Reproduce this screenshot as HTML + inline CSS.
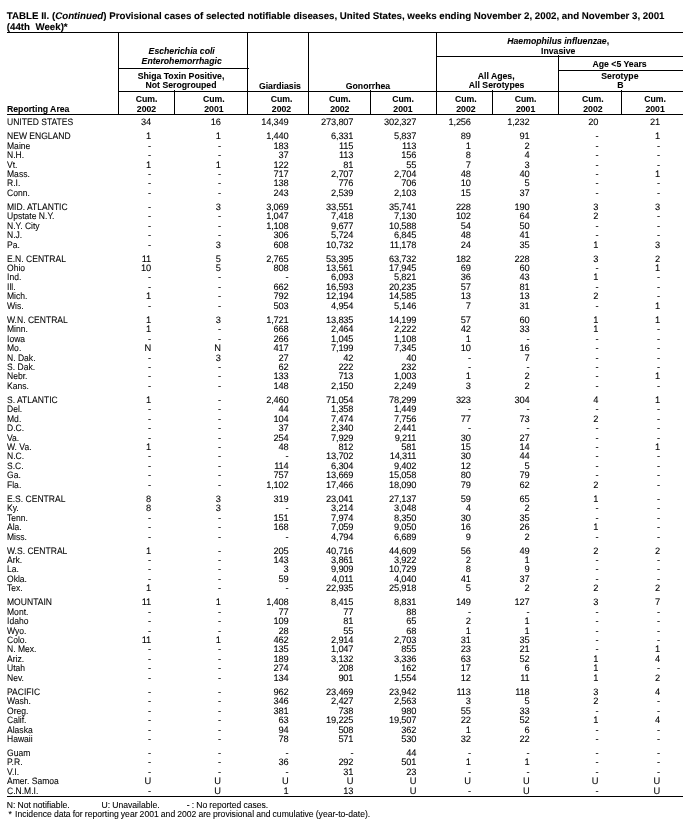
<!DOCTYPE html>
<html><head><meta charset="utf-8"><style>
html,body{margin:0;padding:0;background:#fff}
body{width:698px;height:829px;position:relative;overflow:hidden;will-change:transform;font-family:"Liberation Sans",sans-serif;color:#000}
.t{position:absolute;white-space:nowrap;line-height:20px;-webkit-text-stroke:0.08px #000}
.c{width:300px;text-align:center}
.r{font-size:9.3px;transform:scaleX(0.92);transform-origin:0 0;text-rendering:geometricPrecision}
.f{font-size:8.6px;word-spacing:-0.3px}
.n{font-size:9.3px;letter-spacing:-0.2px;text-rendering:geometricPrecision}
.h{font-size:8.7px;font-weight:bold}
.ti{font-size:9.72px;font-weight:bold;text-rendering:geometricPrecision}
.l{position:absolute;background:#000}
</style></head><body>
<div class="t ti" style="left:6.8px;top:6.9px">TABLE II. (<i>Continued</i>) Provisional cases of selected notifiable diseases, United States, weeks ending November 2, 2002, and November 3, 2001</div>
<div class="t ti" style="left:6.8px;top:17.8px">(44th&nbsp; Week)*</div>
<div class="l" style="left:7px;top:32px;width:676px;height:1px"></div>
<div class="l" style="left:7px;top:114px;width:676px;height:1px"></div>
<div class="l" style="left:118px;top:32px;width:1px;height:83px"></div>
<div class="l" style="left:247px;top:32px;width:1px;height:83px"></div>
<div class="l" style="left:308px;top:32px;width:1px;height:83px"></div>
<div class="l" style="left:436px;top:32px;width:1px;height:83px"></div>
<div class="l" style="left:118px;top:68px;width:131px;height:1px"></div>
<div class="l" style="left:118px;top:91px;width:565px;height:1px"></div>
<div class="l" style="left:436px;top:56px;width:247px;height:1px"></div>
<div class="l" style="left:558px;top:70px;width:125px;height:1px"></div>
<div class="l" style="left:558px;top:55px;width:1px;height:60px"></div>
<div class="l" style="left:174px;top:90px;width:1px;height:25px"></div>
<div class="l" style="left:370px;top:90px;width:1px;height:25px"></div>
<div class="l" style="left:492px;top:90px;width:1px;height:25px"></div>
<div class="l" style="left:621px;top:90px;width:1px;height:25px"></div>
<div class="t h c" style="left:31.7px;top:40.5px"><i>Escherichia coli</i></div>
<div class="t h c" style="left:31.7px;top:50.6px"><i>Enterohemorrhagic</i></div>
<div class="t h c" style="left:31px;top:65.6px">Shiga Toxin Positive,</div>
<div class="t h c" style="left:31px;top:75.1px">Not Serogrouped</div>
<div class="t h c" style="left:129.9px;top:75.8px">Giardiasis</div>
<div class="t h c" style="left:218px;top:75.8px">Gonorrhea</div>
<div class="t h c" style="left:408.2px;top:30.6px"><i>Haemophilus influenzae</i>,</div>
<div class="t h c" style="left:408.2px;top:40.6px">Invasive</div>
<div class="t h c" style="left:346.2px;top:65.6px">All Ages,</div>
<div class="t h c" style="left:346.6px;top:74.9px">All Serotypes</div>
<div class="t h c" style="left:469.6px;top:53.8px">Age &lt;5 Years</div>
<div class="t h c" style="left:469.9px;top:65.6px">Serotype</div>
<div class="t h c" style="left:470.5px;top:75.2px">B</div>
<div class="t h" style="left:7px;top:98.9px">Reporting Area</div>
<div class="t h c" style="left:-3.5px;top:88.85px">Cum.</div>
<div class="t h c" style="left:-3.5px;top:98.85px">2002</div>
<div class="t h c" style="left:63.9px;top:88.85px">Cum.</div>
<div class="t h c" style="left:63.9px;top:98.85px">2001</div>
<div class="t h c" style="left:131.5px;top:88.85px">Cum.</div>
<div class="t h c" style="left:131.5px;top:98.85px">2002</div>
<div class="t h c" style="left:189.8px;top:88.85px">Cum.</div>
<div class="t h c" style="left:189.8px;top:98.85px">2002</div>
<div class="t h c" style="left:253px;top:88.85px">Cum.</div>
<div class="t h c" style="left:253px;top:98.85px">2001</div>
<div class="t h c" style="left:315.9px;top:88.85px">Cum.</div>
<div class="t h c" style="left:315.9px;top:98.85px">2002</div>
<div class="t h c" style="left:375.6px;top:88.85px">Cum.</div>
<div class="t h c" style="left:375.6px;top:98.85px">2001</div>
<div class="t h c" style="left:442.9px;top:88.85px">Cum.</div>
<div class="t h c" style="left:442.9px;top:98.85px">2002</div>
<div class="t h c" style="left:505.1px;top:88.85px">Cum.</div>
<div class="t h c" style="left:505.1px;top:98.85px">2001</div>
<div class="t r" style="left:7.3px;top:112.21px">UNITED STATES</div>
<div class="t n" style="right:547px;top:112.21px">34</div>
<div class="t n" style="right:477.2px;top:112.21px">16</div>
<div class="t n" style="right:409.5px;top:112.21px">14,349</div>
<div class="t n" style="right:344.7px;top:112.21px">273,807</div>
<div class="t n" style="right:281.8px;top:112.21px">302,327</div>
<div class="t n" style="right:227.2px;top:112.21px">1,256</div>
<div class="t n" style="right:168.5px;top:112.21px">1,232</div>
<div class="t n" style="right:99.7px;top:112.21px">20</div>
<div class="t n" style="right:38px;top:112.21px">21</div>
<div class="t r" style="left:7.3px;top:126.2px">NEW ENGLAND</div>
<div class="t n" style="right:547px;top:126.2px">1</div>
<div class="t n" style="right:477.2px;top:126.2px">1</div>
<div class="t n" style="right:409.5px;top:126.2px">1,440</div>
<div class="t n" style="right:344.7px;top:126.2px">6,331</div>
<div class="t n" style="right:281.8px;top:126.2px">5,837</div>
<div class="t n" style="right:227.2px;top:126.2px">89</div>
<div class="t n" style="right:168.5px;top:126.2px">91</div>
<div class="t n" style="right:99.7px;top:126.2px">-</div>
<div class="t n" style="right:38px;top:126.2px">1</div>
<div class="t r" style="left:7.3px;top:135.64px">Maine</div>
<div class="t n" style="right:547px;top:135.64px">-</div>
<div class="t n" style="right:477.2px;top:135.64px">-</div>
<div class="t n" style="right:409.5px;top:135.64px">183</div>
<div class="t n" style="right:344.7px;top:135.64px">115</div>
<div class="t n" style="right:281.8px;top:135.64px">113</div>
<div class="t n" style="right:227.2px;top:135.64px">1</div>
<div class="t n" style="right:168.5px;top:135.64px">2</div>
<div class="t n" style="right:99.7px;top:135.64px">-</div>
<div class="t n" style="right:38px;top:135.64px">-</div>
<div class="t r" style="left:7.3px;top:145.08px">N.H.</div>
<div class="t n" style="right:547px;top:145.08px">-</div>
<div class="t n" style="right:477.2px;top:145.08px">-</div>
<div class="t n" style="right:409.5px;top:145.08px">37</div>
<div class="t n" style="right:344.7px;top:145.08px">113</div>
<div class="t n" style="right:281.8px;top:145.08px">156</div>
<div class="t n" style="right:227.2px;top:145.08px">8</div>
<div class="t n" style="right:168.5px;top:145.08px">4</div>
<div class="t n" style="right:99.7px;top:145.08px">-</div>
<div class="t n" style="right:38px;top:145.08px">-</div>
<div class="t r" style="left:7.3px;top:154.52px">Vt.</div>
<div class="t n" style="right:547px;top:154.52px">1</div>
<div class="t n" style="right:477.2px;top:154.52px">1</div>
<div class="t n" style="right:409.5px;top:154.52px">122</div>
<div class="t n" style="right:344.7px;top:154.52px">81</div>
<div class="t n" style="right:281.8px;top:154.52px">55</div>
<div class="t n" style="right:227.2px;top:154.52px">7</div>
<div class="t n" style="right:168.5px;top:154.52px">3</div>
<div class="t n" style="right:99.7px;top:154.52px">-</div>
<div class="t n" style="right:38px;top:154.52px">-</div>
<div class="t r" style="left:7.3px;top:163.96px">Mass.</div>
<div class="t n" style="right:547px;top:163.96px">-</div>
<div class="t n" style="right:477.2px;top:163.96px">-</div>
<div class="t n" style="right:409.5px;top:163.96px">717</div>
<div class="t n" style="right:344.7px;top:163.96px">2,707</div>
<div class="t n" style="right:281.8px;top:163.96px">2,704</div>
<div class="t n" style="right:227.2px;top:163.96px">48</div>
<div class="t n" style="right:168.5px;top:163.96px">40</div>
<div class="t n" style="right:99.7px;top:163.96px">-</div>
<div class="t n" style="right:38px;top:163.96px">1</div>
<div class="t r" style="left:7.3px;top:173.4px">R.I.</div>
<div class="t n" style="right:547px;top:173.4px">-</div>
<div class="t n" style="right:477.2px;top:173.4px">-</div>
<div class="t n" style="right:409.5px;top:173.4px">138</div>
<div class="t n" style="right:344.7px;top:173.4px">776</div>
<div class="t n" style="right:281.8px;top:173.4px">706</div>
<div class="t n" style="right:227.2px;top:173.4px">10</div>
<div class="t n" style="right:168.5px;top:173.4px">5</div>
<div class="t n" style="right:99.7px;top:173.4px">-</div>
<div class="t n" style="right:38px;top:173.4px">-</div>
<div class="t r" style="left:7.3px;top:182.84px">Conn.</div>
<div class="t n" style="right:547px;top:182.84px">-</div>
<div class="t n" style="right:477.2px;top:182.84px">-</div>
<div class="t n" style="right:409.5px;top:182.84px">243</div>
<div class="t n" style="right:344.7px;top:182.84px">2,539</div>
<div class="t n" style="right:281.8px;top:182.84px">2,103</div>
<div class="t n" style="right:227.2px;top:182.84px">15</div>
<div class="t n" style="right:168.5px;top:182.84px">37</div>
<div class="t n" style="right:99.7px;top:182.84px">-</div>
<div class="t n" style="right:38px;top:182.84px">-</div>
<div class="t r" style="left:7.3px;top:196.83px">MID. ATLANTIC</div>
<div class="t n" style="right:547px;top:196.83px">-</div>
<div class="t n" style="right:477.2px;top:196.83px">3</div>
<div class="t n" style="right:409.5px;top:196.83px">3,069</div>
<div class="t n" style="right:344.7px;top:196.83px">33,551</div>
<div class="t n" style="right:281.8px;top:196.83px">35,741</div>
<div class="t n" style="right:227.2px;top:196.83px">228</div>
<div class="t n" style="right:168.5px;top:196.83px">190</div>
<div class="t n" style="right:99.7px;top:196.83px">3</div>
<div class="t n" style="right:38px;top:196.83px">3</div>
<div class="t r" style="left:7.3px;top:206.27px">Upstate N.Y.</div>
<div class="t n" style="right:547px;top:206.27px">-</div>
<div class="t n" style="right:477.2px;top:206.27px">-</div>
<div class="t n" style="right:409.5px;top:206.27px">1,047</div>
<div class="t n" style="right:344.7px;top:206.27px">7,418</div>
<div class="t n" style="right:281.8px;top:206.27px">7,130</div>
<div class="t n" style="right:227.2px;top:206.27px">102</div>
<div class="t n" style="right:168.5px;top:206.27px">64</div>
<div class="t n" style="right:99.7px;top:206.27px">2</div>
<div class="t n" style="right:38px;top:206.27px">-</div>
<div class="t r" style="left:7.3px;top:215.71px">N.Y. City</div>
<div class="t n" style="right:547px;top:215.71px">-</div>
<div class="t n" style="right:477.2px;top:215.71px">-</div>
<div class="t n" style="right:409.5px;top:215.71px">1,108</div>
<div class="t n" style="right:344.7px;top:215.71px">9,677</div>
<div class="t n" style="right:281.8px;top:215.71px">10,588</div>
<div class="t n" style="right:227.2px;top:215.71px">54</div>
<div class="t n" style="right:168.5px;top:215.71px">50</div>
<div class="t n" style="right:99.7px;top:215.71px">-</div>
<div class="t n" style="right:38px;top:215.71px">-</div>
<div class="t r" style="left:7.3px;top:225.15px">N.J.</div>
<div class="t n" style="right:547px;top:225.15px">-</div>
<div class="t n" style="right:477.2px;top:225.15px">-</div>
<div class="t n" style="right:409.5px;top:225.15px">306</div>
<div class="t n" style="right:344.7px;top:225.15px">5,724</div>
<div class="t n" style="right:281.8px;top:225.15px">6,845</div>
<div class="t n" style="right:227.2px;top:225.15px">48</div>
<div class="t n" style="right:168.5px;top:225.15px">41</div>
<div class="t n" style="right:99.7px;top:225.15px">-</div>
<div class="t n" style="right:38px;top:225.15px">-</div>
<div class="t r" style="left:7.3px;top:234.59px">Pa.</div>
<div class="t n" style="right:547px;top:234.59px">-</div>
<div class="t n" style="right:477.2px;top:234.59px">3</div>
<div class="t n" style="right:409.5px;top:234.59px">608</div>
<div class="t n" style="right:344.7px;top:234.59px">10,732</div>
<div class="t n" style="right:281.8px;top:234.59px">11,178</div>
<div class="t n" style="right:227.2px;top:234.59px">24</div>
<div class="t n" style="right:168.5px;top:234.59px">35</div>
<div class="t n" style="right:99.7px;top:234.59px">1</div>
<div class="t n" style="right:38px;top:234.59px">3</div>
<div class="t r" style="left:7.3px;top:248.58px">E.N. CENTRAL</div>
<div class="t n" style="right:547px;top:248.58px">11</div>
<div class="t n" style="right:477.2px;top:248.58px">5</div>
<div class="t n" style="right:409.5px;top:248.58px">2,765</div>
<div class="t n" style="right:344.7px;top:248.58px">53,395</div>
<div class="t n" style="right:281.8px;top:248.58px">63,732</div>
<div class="t n" style="right:227.2px;top:248.58px">182</div>
<div class="t n" style="right:168.5px;top:248.58px">228</div>
<div class="t n" style="right:99.7px;top:248.58px">3</div>
<div class="t n" style="right:38px;top:248.58px">2</div>
<div class="t r" style="left:7.3px;top:258.02px">Ohio</div>
<div class="t n" style="right:547px;top:258.02px">10</div>
<div class="t n" style="right:477.2px;top:258.02px">5</div>
<div class="t n" style="right:409.5px;top:258.02px">808</div>
<div class="t n" style="right:344.7px;top:258.02px">13,561</div>
<div class="t n" style="right:281.8px;top:258.02px">17,945</div>
<div class="t n" style="right:227.2px;top:258.02px">69</div>
<div class="t n" style="right:168.5px;top:258.02px">60</div>
<div class="t n" style="right:99.7px;top:258.02px">-</div>
<div class="t n" style="right:38px;top:258.02px">1</div>
<div class="t r" style="left:7.3px;top:267.46px">Ind.</div>
<div class="t n" style="right:547px;top:267.46px">-</div>
<div class="t n" style="right:477.2px;top:267.46px">-</div>
<div class="t n" style="right:409.5px;top:267.46px">-</div>
<div class="t n" style="right:344.7px;top:267.46px">6,093</div>
<div class="t n" style="right:281.8px;top:267.46px">5,821</div>
<div class="t n" style="right:227.2px;top:267.46px">36</div>
<div class="t n" style="right:168.5px;top:267.46px">43</div>
<div class="t n" style="right:99.7px;top:267.46px">1</div>
<div class="t n" style="right:38px;top:267.46px">-</div>
<div class="t r" style="left:7.3px;top:276.9px">Ill.</div>
<div class="t n" style="right:547px;top:276.9px">-</div>
<div class="t n" style="right:477.2px;top:276.9px">-</div>
<div class="t n" style="right:409.5px;top:276.9px">662</div>
<div class="t n" style="right:344.7px;top:276.9px">16,593</div>
<div class="t n" style="right:281.8px;top:276.9px">20,235</div>
<div class="t n" style="right:227.2px;top:276.9px">57</div>
<div class="t n" style="right:168.5px;top:276.9px">81</div>
<div class="t n" style="right:99.7px;top:276.9px">-</div>
<div class="t n" style="right:38px;top:276.9px">-</div>
<div class="t r" style="left:7.3px;top:286.34px">Mich.</div>
<div class="t n" style="right:547px;top:286.34px">1</div>
<div class="t n" style="right:477.2px;top:286.34px">-</div>
<div class="t n" style="right:409.5px;top:286.34px">792</div>
<div class="t n" style="right:344.7px;top:286.34px">12,194</div>
<div class="t n" style="right:281.8px;top:286.34px">14,585</div>
<div class="t n" style="right:227.2px;top:286.34px">13</div>
<div class="t n" style="right:168.5px;top:286.34px">13</div>
<div class="t n" style="right:99.7px;top:286.34px">2</div>
<div class="t n" style="right:38px;top:286.34px">-</div>
<div class="t r" style="left:7.3px;top:295.78px">Wis.</div>
<div class="t n" style="right:547px;top:295.78px">-</div>
<div class="t n" style="right:477.2px;top:295.78px">-</div>
<div class="t n" style="right:409.5px;top:295.78px">503</div>
<div class="t n" style="right:344.7px;top:295.78px">4,954</div>
<div class="t n" style="right:281.8px;top:295.78px">5,146</div>
<div class="t n" style="right:227.2px;top:295.78px">7</div>
<div class="t n" style="right:168.5px;top:295.78px">31</div>
<div class="t n" style="right:99.7px;top:295.78px">-</div>
<div class="t n" style="right:38px;top:295.78px">1</div>
<div class="t r" style="left:7.3px;top:309.77px">W.N. CENTRAL</div>
<div class="t n" style="right:547px;top:309.77px">1</div>
<div class="t n" style="right:477.2px;top:309.77px">3</div>
<div class="t n" style="right:409.5px;top:309.77px">1,721</div>
<div class="t n" style="right:344.7px;top:309.77px">13,835</div>
<div class="t n" style="right:281.8px;top:309.77px">14,199</div>
<div class="t n" style="right:227.2px;top:309.77px">57</div>
<div class="t n" style="right:168.5px;top:309.77px">60</div>
<div class="t n" style="right:99.7px;top:309.77px">1</div>
<div class="t n" style="right:38px;top:309.77px">1</div>
<div class="t r" style="left:7.3px;top:319.21px">Minn.</div>
<div class="t n" style="right:547px;top:319.21px">1</div>
<div class="t n" style="right:477.2px;top:319.21px">-</div>
<div class="t n" style="right:409.5px;top:319.21px">668</div>
<div class="t n" style="right:344.7px;top:319.21px">2,464</div>
<div class="t n" style="right:281.8px;top:319.21px">2,222</div>
<div class="t n" style="right:227.2px;top:319.21px">42</div>
<div class="t n" style="right:168.5px;top:319.21px">33</div>
<div class="t n" style="right:99.7px;top:319.21px">1</div>
<div class="t n" style="right:38px;top:319.21px">-</div>
<div class="t r" style="left:7.3px;top:328.65px">Iowa</div>
<div class="t n" style="right:547px;top:328.65px">-</div>
<div class="t n" style="right:477.2px;top:328.65px">-</div>
<div class="t n" style="right:409.5px;top:328.65px">266</div>
<div class="t n" style="right:344.7px;top:328.65px">1,045</div>
<div class="t n" style="right:281.8px;top:328.65px">1,108</div>
<div class="t n" style="right:227.2px;top:328.65px">1</div>
<div class="t n" style="right:168.5px;top:328.65px">-</div>
<div class="t n" style="right:99.7px;top:328.65px">-</div>
<div class="t n" style="right:38px;top:328.65px">-</div>
<div class="t r" style="left:7.3px;top:338.09px">Mo.</div>
<div class="t n" style="right:547px;top:338.09px">N</div>
<div class="t n" style="right:477.2px;top:338.09px">N</div>
<div class="t n" style="right:409.5px;top:338.09px">417</div>
<div class="t n" style="right:344.7px;top:338.09px">7,199</div>
<div class="t n" style="right:281.8px;top:338.09px">7,345</div>
<div class="t n" style="right:227.2px;top:338.09px">10</div>
<div class="t n" style="right:168.5px;top:338.09px">16</div>
<div class="t n" style="right:99.7px;top:338.09px">-</div>
<div class="t n" style="right:38px;top:338.09px">-</div>
<div class="t r" style="left:7.3px;top:347.53px">N. Dak.</div>
<div class="t n" style="right:547px;top:347.53px">-</div>
<div class="t n" style="right:477.2px;top:347.53px">3</div>
<div class="t n" style="right:409.5px;top:347.53px">27</div>
<div class="t n" style="right:344.7px;top:347.53px">42</div>
<div class="t n" style="right:281.8px;top:347.53px">40</div>
<div class="t n" style="right:227.2px;top:347.53px">-</div>
<div class="t n" style="right:168.5px;top:347.53px">7</div>
<div class="t n" style="right:99.7px;top:347.53px">-</div>
<div class="t n" style="right:38px;top:347.53px">-</div>
<div class="t r" style="left:7.3px;top:356.97px">S. Dak.</div>
<div class="t n" style="right:547px;top:356.97px">-</div>
<div class="t n" style="right:477.2px;top:356.97px">-</div>
<div class="t n" style="right:409.5px;top:356.97px">62</div>
<div class="t n" style="right:344.7px;top:356.97px">222</div>
<div class="t n" style="right:281.8px;top:356.97px">232</div>
<div class="t n" style="right:227.2px;top:356.97px">-</div>
<div class="t n" style="right:168.5px;top:356.97px">-</div>
<div class="t n" style="right:99.7px;top:356.97px">-</div>
<div class="t n" style="right:38px;top:356.97px">-</div>
<div class="t r" style="left:7.3px;top:366.41px">Nebr.</div>
<div class="t n" style="right:547px;top:366.41px">-</div>
<div class="t n" style="right:477.2px;top:366.41px">-</div>
<div class="t n" style="right:409.5px;top:366.41px">133</div>
<div class="t n" style="right:344.7px;top:366.41px">713</div>
<div class="t n" style="right:281.8px;top:366.41px">1,003</div>
<div class="t n" style="right:227.2px;top:366.41px">1</div>
<div class="t n" style="right:168.5px;top:366.41px">2</div>
<div class="t n" style="right:99.7px;top:366.41px">-</div>
<div class="t n" style="right:38px;top:366.41px">1</div>
<div class="t r" style="left:7.3px;top:375.85px">Kans.</div>
<div class="t n" style="right:547px;top:375.85px">-</div>
<div class="t n" style="right:477.2px;top:375.85px">-</div>
<div class="t n" style="right:409.5px;top:375.85px">148</div>
<div class="t n" style="right:344.7px;top:375.85px">2,150</div>
<div class="t n" style="right:281.8px;top:375.85px">2,249</div>
<div class="t n" style="right:227.2px;top:375.85px">3</div>
<div class="t n" style="right:168.5px;top:375.85px">2</div>
<div class="t n" style="right:99.7px;top:375.85px">-</div>
<div class="t n" style="right:38px;top:375.85px">-</div>
<div class="t r" style="left:7.3px;top:389.84px">S. ATLANTIC</div>
<div class="t n" style="right:547px;top:389.84px">1</div>
<div class="t n" style="right:477.2px;top:389.84px">-</div>
<div class="t n" style="right:409.5px;top:389.84px">2,460</div>
<div class="t n" style="right:344.7px;top:389.84px">71,054</div>
<div class="t n" style="right:281.8px;top:389.84px">78,299</div>
<div class="t n" style="right:227.2px;top:389.84px">323</div>
<div class="t n" style="right:168.5px;top:389.84px">304</div>
<div class="t n" style="right:99.7px;top:389.84px">4</div>
<div class="t n" style="right:38px;top:389.84px">1</div>
<div class="t r" style="left:7.3px;top:399.28px">Del.</div>
<div class="t n" style="right:547px;top:399.28px">-</div>
<div class="t n" style="right:477.2px;top:399.28px">-</div>
<div class="t n" style="right:409.5px;top:399.28px">44</div>
<div class="t n" style="right:344.7px;top:399.28px">1,358</div>
<div class="t n" style="right:281.8px;top:399.28px">1,449</div>
<div class="t n" style="right:227.2px;top:399.28px">-</div>
<div class="t n" style="right:168.5px;top:399.28px">-</div>
<div class="t n" style="right:99.7px;top:399.28px">-</div>
<div class="t n" style="right:38px;top:399.28px">-</div>
<div class="t r" style="left:7.3px;top:408.72px">Md.</div>
<div class="t n" style="right:547px;top:408.72px">-</div>
<div class="t n" style="right:477.2px;top:408.72px">-</div>
<div class="t n" style="right:409.5px;top:408.72px">104</div>
<div class="t n" style="right:344.7px;top:408.72px">7,474</div>
<div class="t n" style="right:281.8px;top:408.72px">7,756</div>
<div class="t n" style="right:227.2px;top:408.72px">77</div>
<div class="t n" style="right:168.5px;top:408.72px">73</div>
<div class="t n" style="right:99.7px;top:408.72px">2</div>
<div class="t n" style="right:38px;top:408.72px">-</div>
<div class="t r" style="left:7.3px;top:418.16px">D.C.</div>
<div class="t n" style="right:547px;top:418.16px">-</div>
<div class="t n" style="right:477.2px;top:418.16px">-</div>
<div class="t n" style="right:409.5px;top:418.16px">37</div>
<div class="t n" style="right:344.7px;top:418.16px">2,340</div>
<div class="t n" style="right:281.8px;top:418.16px">2,441</div>
<div class="t n" style="right:227.2px;top:418.16px">-</div>
<div class="t n" style="right:168.5px;top:418.16px">-</div>
<div class="t n" style="right:99.7px;top:418.16px">-</div>
<div class="t n" style="right:38px;top:418.16px">-</div>
<div class="t r" style="left:7.3px;top:427.6px">Va.</div>
<div class="t n" style="right:547px;top:427.6px">-</div>
<div class="t n" style="right:477.2px;top:427.6px">-</div>
<div class="t n" style="right:409.5px;top:427.6px">254</div>
<div class="t n" style="right:344.7px;top:427.6px">7,929</div>
<div class="t n" style="right:281.8px;top:427.6px">9,211</div>
<div class="t n" style="right:227.2px;top:427.6px">30</div>
<div class="t n" style="right:168.5px;top:427.6px">27</div>
<div class="t n" style="right:99.7px;top:427.6px">-</div>
<div class="t n" style="right:38px;top:427.6px">-</div>
<div class="t r" style="left:7.3px;top:437.04px">W. Va.</div>
<div class="t n" style="right:547px;top:437.04px">1</div>
<div class="t n" style="right:477.2px;top:437.04px">-</div>
<div class="t n" style="right:409.5px;top:437.04px">48</div>
<div class="t n" style="right:344.7px;top:437.04px">812</div>
<div class="t n" style="right:281.8px;top:437.04px">581</div>
<div class="t n" style="right:227.2px;top:437.04px">15</div>
<div class="t n" style="right:168.5px;top:437.04px">14</div>
<div class="t n" style="right:99.7px;top:437.04px">-</div>
<div class="t n" style="right:38px;top:437.04px">1</div>
<div class="t r" style="left:7.3px;top:446.48px">N.C.</div>
<div class="t n" style="right:547px;top:446.48px">-</div>
<div class="t n" style="right:477.2px;top:446.48px">-</div>
<div class="t n" style="right:409.5px;top:446.48px">-</div>
<div class="t n" style="right:344.7px;top:446.48px">13,702</div>
<div class="t n" style="right:281.8px;top:446.48px">14,311</div>
<div class="t n" style="right:227.2px;top:446.48px">30</div>
<div class="t n" style="right:168.5px;top:446.48px">44</div>
<div class="t n" style="right:99.7px;top:446.48px">-</div>
<div class="t n" style="right:38px;top:446.48px">-</div>
<div class="t r" style="left:7.3px;top:455.92px">S.C.</div>
<div class="t n" style="right:547px;top:455.92px">-</div>
<div class="t n" style="right:477.2px;top:455.92px">-</div>
<div class="t n" style="right:409.5px;top:455.92px">114</div>
<div class="t n" style="right:344.7px;top:455.92px">6,304</div>
<div class="t n" style="right:281.8px;top:455.92px">9,402</div>
<div class="t n" style="right:227.2px;top:455.92px">12</div>
<div class="t n" style="right:168.5px;top:455.92px">5</div>
<div class="t n" style="right:99.7px;top:455.92px">-</div>
<div class="t n" style="right:38px;top:455.92px">-</div>
<div class="t r" style="left:7.3px;top:465.36px">Ga.</div>
<div class="t n" style="right:547px;top:465.36px">-</div>
<div class="t n" style="right:477.2px;top:465.36px">-</div>
<div class="t n" style="right:409.5px;top:465.36px">757</div>
<div class="t n" style="right:344.7px;top:465.36px">13,669</div>
<div class="t n" style="right:281.8px;top:465.36px">15,058</div>
<div class="t n" style="right:227.2px;top:465.36px">80</div>
<div class="t n" style="right:168.5px;top:465.36px">79</div>
<div class="t n" style="right:99.7px;top:465.36px">-</div>
<div class="t n" style="right:38px;top:465.36px">-</div>
<div class="t r" style="left:7.3px;top:474.8px">Fla.</div>
<div class="t n" style="right:547px;top:474.8px">-</div>
<div class="t n" style="right:477.2px;top:474.8px">-</div>
<div class="t n" style="right:409.5px;top:474.8px">1,102</div>
<div class="t n" style="right:344.7px;top:474.8px">17,466</div>
<div class="t n" style="right:281.8px;top:474.8px">18,090</div>
<div class="t n" style="right:227.2px;top:474.8px">79</div>
<div class="t n" style="right:168.5px;top:474.8px">62</div>
<div class="t n" style="right:99.7px;top:474.8px">2</div>
<div class="t n" style="right:38px;top:474.8px">-</div>
<div class="t r" style="left:7.3px;top:488.79px">E.S. CENTRAL</div>
<div class="t n" style="right:547px;top:488.79px">8</div>
<div class="t n" style="right:477.2px;top:488.79px">3</div>
<div class="t n" style="right:409.5px;top:488.79px">319</div>
<div class="t n" style="right:344.7px;top:488.79px">23,041</div>
<div class="t n" style="right:281.8px;top:488.79px">27,137</div>
<div class="t n" style="right:227.2px;top:488.79px">59</div>
<div class="t n" style="right:168.5px;top:488.79px">65</div>
<div class="t n" style="right:99.7px;top:488.79px">1</div>
<div class="t n" style="right:38px;top:488.79px">-</div>
<div class="t r" style="left:7.3px;top:498.23px">Ky.</div>
<div class="t n" style="right:547px;top:498.23px">8</div>
<div class="t n" style="right:477.2px;top:498.23px">3</div>
<div class="t n" style="right:409.5px;top:498.23px">-</div>
<div class="t n" style="right:344.7px;top:498.23px">3,214</div>
<div class="t n" style="right:281.8px;top:498.23px">3,048</div>
<div class="t n" style="right:227.2px;top:498.23px">4</div>
<div class="t n" style="right:168.5px;top:498.23px">2</div>
<div class="t n" style="right:99.7px;top:498.23px">-</div>
<div class="t n" style="right:38px;top:498.23px">-</div>
<div class="t r" style="left:7.3px;top:507.67px">Tenn.</div>
<div class="t n" style="right:547px;top:507.67px">-</div>
<div class="t n" style="right:477.2px;top:507.67px">-</div>
<div class="t n" style="right:409.5px;top:507.67px">151</div>
<div class="t n" style="right:344.7px;top:507.67px">7,974</div>
<div class="t n" style="right:281.8px;top:507.67px">8,350</div>
<div class="t n" style="right:227.2px;top:507.67px">30</div>
<div class="t n" style="right:168.5px;top:507.67px">35</div>
<div class="t n" style="right:99.7px;top:507.67px">-</div>
<div class="t n" style="right:38px;top:507.67px">-</div>
<div class="t r" style="left:7.3px;top:517.11px">Ala.</div>
<div class="t n" style="right:547px;top:517.11px">-</div>
<div class="t n" style="right:477.2px;top:517.11px">-</div>
<div class="t n" style="right:409.5px;top:517.11px">168</div>
<div class="t n" style="right:344.7px;top:517.11px">7,059</div>
<div class="t n" style="right:281.8px;top:517.11px">9,050</div>
<div class="t n" style="right:227.2px;top:517.11px">16</div>
<div class="t n" style="right:168.5px;top:517.11px">26</div>
<div class="t n" style="right:99.7px;top:517.11px">1</div>
<div class="t n" style="right:38px;top:517.11px">-</div>
<div class="t r" style="left:7.3px;top:526.55px">Miss.</div>
<div class="t n" style="right:547px;top:526.55px">-</div>
<div class="t n" style="right:477.2px;top:526.55px">-</div>
<div class="t n" style="right:409.5px;top:526.55px">-</div>
<div class="t n" style="right:344.7px;top:526.55px">4,794</div>
<div class="t n" style="right:281.8px;top:526.55px">6,689</div>
<div class="t n" style="right:227.2px;top:526.55px">9</div>
<div class="t n" style="right:168.5px;top:526.55px">2</div>
<div class="t n" style="right:99.7px;top:526.55px">-</div>
<div class="t n" style="right:38px;top:526.55px">-</div>
<div class="t r" style="left:7.3px;top:540.54px">W.S. CENTRAL</div>
<div class="t n" style="right:547px;top:540.54px">1</div>
<div class="t n" style="right:477.2px;top:540.54px">-</div>
<div class="t n" style="right:409.5px;top:540.54px">205</div>
<div class="t n" style="right:344.7px;top:540.54px">40,716</div>
<div class="t n" style="right:281.8px;top:540.54px">44,609</div>
<div class="t n" style="right:227.2px;top:540.54px">56</div>
<div class="t n" style="right:168.5px;top:540.54px">49</div>
<div class="t n" style="right:99.7px;top:540.54px">2</div>
<div class="t n" style="right:38px;top:540.54px">2</div>
<div class="t r" style="left:7.3px;top:549.98px">Ark.</div>
<div class="t n" style="right:547px;top:549.98px">-</div>
<div class="t n" style="right:477.2px;top:549.98px">-</div>
<div class="t n" style="right:409.5px;top:549.98px">143</div>
<div class="t n" style="right:344.7px;top:549.98px">3,861</div>
<div class="t n" style="right:281.8px;top:549.98px">3,922</div>
<div class="t n" style="right:227.2px;top:549.98px">2</div>
<div class="t n" style="right:168.5px;top:549.98px">1</div>
<div class="t n" style="right:99.7px;top:549.98px">-</div>
<div class="t n" style="right:38px;top:549.98px">-</div>
<div class="t r" style="left:7.3px;top:559.42px">La.</div>
<div class="t n" style="right:547px;top:559.42px">-</div>
<div class="t n" style="right:477.2px;top:559.42px">-</div>
<div class="t n" style="right:409.5px;top:559.42px">3</div>
<div class="t n" style="right:344.7px;top:559.42px">9,909</div>
<div class="t n" style="right:281.8px;top:559.42px">10,729</div>
<div class="t n" style="right:227.2px;top:559.42px">8</div>
<div class="t n" style="right:168.5px;top:559.42px">9</div>
<div class="t n" style="right:99.7px;top:559.42px">-</div>
<div class="t n" style="right:38px;top:559.42px">-</div>
<div class="t r" style="left:7.3px;top:568.86px">Okla.</div>
<div class="t n" style="right:547px;top:568.86px">-</div>
<div class="t n" style="right:477.2px;top:568.86px">-</div>
<div class="t n" style="right:409.5px;top:568.86px">59</div>
<div class="t n" style="right:344.7px;top:568.86px">4,011</div>
<div class="t n" style="right:281.8px;top:568.86px">4,040</div>
<div class="t n" style="right:227.2px;top:568.86px">41</div>
<div class="t n" style="right:168.5px;top:568.86px">37</div>
<div class="t n" style="right:99.7px;top:568.86px">-</div>
<div class="t n" style="right:38px;top:568.86px">-</div>
<div class="t r" style="left:7.3px;top:578.3px">Tex.</div>
<div class="t n" style="right:547px;top:578.3px">1</div>
<div class="t n" style="right:477.2px;top:578.3px">-</div>
<div class="t n" style="right:409.5px;top:578.3px">-</div>
<div class="t n" style="right:344.7px;top:578.3px">22,935</div>
<div class="t n" style="right:281.8px;top:578.3px">25,918</div>
<div class="t n" style="right:227.2px;top:578.3px">5</div>
<div class="t n" style="right:168.5px;top:578.3px">2</div>
<div class="t n" style="right:99.7px;top:578.3px">2</div>
<div class="t n" style="right:38px;top:578.3px">2</div>
<div class="t r" style="left:7.3px;top:592.29px">MOUNTAIN</div>
<div class="t n" style="right:547px;top:592.29px">11</div>
<div class="t n" style="right:477.2px;top:592.29px">1</div>
<div class="t n" style="right:409.5px;top:592.29px">1,408</div>
<div class="t n" style="right:344.7px;top:592.29px">8,415</div>
<div class="t n" style="right:281.8px;top:592.29px">8,831</div>
<div class="t n" style="right:227.2px;top:592.29px">149</div>
<div class="t n" style="right:168.5px;top:592.29px">127</div>
<div class="t n" style="right:99.7px;top:592.29px">3</div>
<div class="t n" style="right:38px;top:592.29px">7</div>
<div class="t r" style="left:7.3px;top:601.73px">Mont.</div>
<div class="t n" style="right:547px;top:601.73px">-</div>
<div class="t n" style="right:477.2px;top:601.73px">-</div>
<div class="t n" style="right:409.5px;top:601.73px">77</div>
<div class="t n" style="right:344.7px;top:601.73px">77</div>
<div class="t n" style="right:281.8px;top:601.73px">88</div>
<div class="t n" style="right:227.2px;top:601.73px">-</div>
<div class="t n" style="right:168.5px;top:601.73px">-</div>
<div class="t n" style="right:99.7px;top:601.73px">-</div>
<div class="t n" style="right:38px;top:601.73px">-</div>
<div class="t r" style="left:7.3px;top:611.17px">Idaho</div>
<div class="t n" style="right:547px;top:611.17px">-</div>
<div class="t n" style="right:477.2px;top:611.17px">-</div>
<div class="t n" style="right:409.5px;top:611.17px">109</div>
<div class="t n" style="right:344.7px;top:611.17px">81</div>
<div class="t n" style="right:281.8px;top:611.17px">65</div>
<div class="t n" style="right:227.2px;top:611.17px">2</div>
<div class="t n" style="right:168.5px;top:611.17px">1</div>
<div class="t n" style="right:99.7px;top:611.17px">-</div>
<div class="t n" style="right:38px;top:611.17px">-</div>
<div class="t r" style="left:7.3px;top:620.61px">Wyo.</div>
<div class="t n" style="right:547px;top:620.61px">-</div>
<div class="t n" style="right:477.2px;top:620.61px">-</div>
<div class="t n" style="right:409.5px;top:620.61px">28</div>
<div class="t n" style="right:344.7px;top:620.61px">55</div>
<div class="t n" style="right:281.8px;top:620.61px">68</div>
<div class="t n" style="right:227.2px;top:620.61px">1</div>
<div class="t n" style="right:168.5px;top:620.61px">1</div>
<div class="t n" style="right:99.7px;top:620.61px">-</div>
<div class="t n" style="right:38px;top:620.61px">-</div>
<div class="t r" style="left:7.3px;top:630.05px">Colo.</div>
<div class="t n" style="right:547px;top:630.05px">11</div>
<div class="t n" style="right:477.2px;top:630.05px">1</div>
<div class="t n" style="right:409.5px;top:630.05px">462</div>
<div class="t n" style="right:344.7px;top:630.05px">2,914</div>
<div class="t n" style="right:281.8px;top:630.05px">2,703</div>
<div class="t n" style="right:227.2px;top:630.05px">31</div>
<div class="t n" style="right:168.5px;top:630.05px">35</div>
<div class="t n" style="right:99.7px;top:630.05px">-</div>
<div class="t n" style="right:38px;top:630.05px">-</div>
<div class="t r" style="left:7.3px;top:639.49px">N. Mex.</div>
<div class="t n" style="right:547px;top:639.49px">-</div>
<div class="t n" style="right:477.2px;top:639.49px">-</div>
<div class="t n" style="right:409.5px;top:639.49px">135</div>
<div class="t n" style="right:344.7px;top:639.49px">1,047</div>
<div class="t n" style="right:281.8px;top:639.49px">855</div>
<div class="t n" style="right:227.2px;top:639.49px">23</div>
<div class="t n" style="right:168.5px;top:639.49px">21</div>
<div class="t n" style="right:99.7px;top:639.49px">-</div>
<div class="t n" style="right:38px;top:639.49px">1</div>
<div class="t r" style="left:7.3px;top:648.93px">Ariz.</div>
<div class="t n" style="right:547px;top:648.93px">-</div>
<div class="t n" style="right:477.2px;top:648.93px">-</div>
<div class="t n" style="right:409.5px;top:648.93px">189</div>
<div class="t n" style="right:344.7px;top:648.93px">3,132</div>
<div class="t n" style="right:281.8px;top:648.93px">3,336</div>
<div class="t n" style="right:227.2px;top:648.93px">63</div>
<div class="t n" style="right:168.5px;top:648.93px">52</div>
<div class="t n" style="right:99.7px;top:648.93px">1</div>
<div class="t n" style="right:38px;top:648.93px">4</div>
<div class="t r" style="left:7.3px;top:658.37px">Utah</div>
<div class="t n" style="right:547px;top:658.37px">-</div>
<div class="t n" style="right:477.2px;top:658.37px">-</div>
<div class="t n" style="right:409.5px;top:658.37px">274</div>
<div class="t n" style="right:344.7px;top:658.37px">208</div>
<div class="t n" style="right:281.8px;top:658.37px">162</div>
<div class="t n" style="right:227.2px;top:658.37px">17</div>
<div class="t n" style="right:168.5px;top:658.37px">6</div>
<div class="t n" style="right:99.7px;top:658.37px">1</div>
<div class="t n" style="right:38px;top:658.37px">-</div>
<div class="t r" style="left:7.3px;top:667.81px">Nev.</div>
<div class="t n" style="right:547px;top:667.81px">-</div>
<div class="t n" style="right:477.2px;top:667.81px">-</div>
<div class="t n" style="right:409.5px;top:667.81px">134</div>
<div class="t n" style="right:344.7px;top:667.81px">901</div>
<div class="t n" style="right:281.8px;top:667.81px">1,554</div>
<div class="t n" style="right:227.2px;top:667.81px">12</div>
<div class="t n" style="right:168.5px;top:667.81px">11</div>
<div class="t n" style="right:99.7px;top:667.81px">1</div>
<div class="t n" style="right:38px;top:667.81px">2</div>
<div class="t r" style="left:7.3px;top:681.8px">PACIFIC</div>
<div class="t n" style="right:547px;top:681.8px">-</div>
<div class="t n" style="right:477.2px;top:681.8px">-</div>
<div class="t n" style="right:409.5px;top:681.8px">962</div>
<div class="t n" style="right:344.7px;top:681.8px">23,469</div>
<div class="t n" style="right:281.8px;top:681.8px">23,942</div>
<div class="t n" style="right:227.2px;top:681.8px">113</div>
<div class="t n" style="right:168.5px;top:681.8px">118</div>
<div class="t n" style="right:99.7px;top:681.8px">3</div>
<div class="t n" style="right:38px;top:681.8px">4</div>
<div class="t r" style="left:7.3px;top:691.24px">Wash.</div>
<div class="t n" style="right:547px;top:691.24px">-</div>
<div class="t n" style="right:477.2px;top:691.24px">-</div>
<div class="t n" style="right:409.5px;top:691.24px">346</div>
<div class="t n" style="right:344.7px;top:691.24px">2,427</div>
<div class="t n" style="right:281.8px;top:691.24px">2,563</div>
<div class="t n" style="right:227.2px;top:691.24px">3</div>
<div class="t n" style="right:168.5px;top:691.24px">5</div>
<div class="t n" style="right:99.7px;top:691.24px">2</div>
<div class="t n" style="right:38px;top:691.24px">-</div>
<div class="t r" style="left:7.3px;top:700.68px">Oreg.</div>
<div class="t n" style="right:547px;top:700.68px">-</div>
<div class="t n" style="right:477.2px;top:700.68px">-</div>
<div class="t n" style="right:409.5px;top:700.68px">381</div>
<div class="t n" style="right:344.7px;top:700.68px">738</div>
<div class="t n" style="right:281.8px;top:700.68px">980</div>
<div class="t n" style="right:227.2px;top:700.68px">55</div>
<div class="t n" style="right:168.5px;top:700.68px">33</div>
<div class="t n" style="right:99.7px;top:700.68px">-</div>
<div class="t n" style="right:38px;top:700.68px">-</div>
<div class="t r" style="left:7.3px;top:710.12px">Calif.</div>
<div class="t n" style="right:547px;top:710.12px">-</div>
<div class="t n" style="right:477.2px;top:710.12px">-</div>
<div class="t n" style="right:409.5px;top:710.12px">63</div>
<div class="t n" style="right:344.7px;top:710.12px">19,225</div>
<div class="t n" style="right:281.8px;top:710.12px">19,507</div>
<div class="t n" style="right:227.2px;top:710.12px">22</div>
<div class="t n" style="right:168.5px;top:710.12px">52</div>
<div class="t n" style="right:99.7px;top:710.12px">1</div>
<div class="t n" style="right:38px;top:710.12px">4</div>
<div class="t r" style="left:7.3px;top:719.56px">Alaska</div>
<div class="t n" style="right:547px;top:719.56px">-</div>
<div class="t n" style="right:477.2px;top:719.56px">-</div>
<div class="t n" style="right:409.5px;top:719.56px">94</div>
<div class="t n" style="right:344.7px;top:719.56px">508</div>
<div class="t n" style="right:281.8px;top:719.56px">362</div>
<div class="t n" style="right:227.2px;top:719.56px">1</div>
<div class="t n" style="right:168.5px;top:719.56px">6</div>
<div class="t n" style="right:99.7px;top:719.56px">-</div>
<div class="t n" style="right:38px;top:719.56px">-</div>
<div class="t r" style="left:7.3px;top:729px">Hawaii</div>
<div class="t n" style="right:547px;top:729px">-</div>
<div class="t n" style="right:477.2px;top:729px">-</div>
<div class="t n" style="right:409.5px;top:729px">78</div>
<div class="t n" style="right:344.7px;top:729px">571</div>
<div class="t n" style="right:281.8px;top:729px">530</div>
<div class="t n" style="right:227.2px;top:729px">32</div>
<div class="t n" style="right:168.5px;top:729px">22</div>
<div class="t n" style="right:99.7px;top:729px">-</div>
<div class="t n" style="right:38px;top:729px">-</div>
<div class="t r" style="left:7.3px;top:742.99px">Guam</div>
<div class="t n" style="right:547px;top:742.99px">-</div>
<div class="t n" style="right:477.2px;top:742.99px">-</div>
<div class="t n" style="right:409.5px;top:742.99px">-</div>
<div class="t n" style="right:344.7px;top:742.99px">-</div>
<div class="t n" style="right:281.8px;top:742.99px">44</div>
<div class="t n" style="right:227.2px;top:742.99px">-</div>
<div class="t n" style="right:168.5px;top:742.99px">-</div>
<div class="t n" style="right:99.7px;top:742.99px">-</div>
<div class="t n" style="right:38px;top:742.99px">-</div>
<div class="t r" style="left:7.3px;top:752.43px">P.R.</div>
<div class="t n" style="right:547px;top:752.43px">-</div>
<div class="t n" style="right:477.2px;top:752.43px">-</div>
<div class="t n" style="right:409.5px;top:752.43px">36</div>
<div class="t n" style="right:344.7px;top:752.43px">292</div>
<div class="t n" style="right:281.8px;top:752.43px">501</div>
<div class="t n" style="right:227.2px;top:752.43px">1</div>
<div class="t n" style="right:168.5px;top:752.43px">1</div>
<div class="t n" style="right:99.7px;top:752.43px">-</div>
<div class="t n" style="right:38px;top:752.43px">-</div>
<div class="t r" style="left:7.3px;top:761.87px">V.I.</div>
<div class="t n" style="right:547px;top:761.87px">-</div>
<div class="t n" style="right:477.2px;top:761.87px">-</div>
<div class="t n" style="right:409.5px;top:761.87px">-</div>
<div class="t n" style="right:344.7px;top:761.87px">31</div>
<div class="t n" style="right:281.8px;top:761.87px">23</div>
<div class="t n" style="right:227.2px;top:761.87px">-</div>
<div class="t n" style="right:168.5px;top:761.87px">-</div>
<div class="t n" style="right:99.7px;top:761.87px">-</div>
<div class="t n" style="right:38px;top:761.87px">-</div>
<div class="t r" style="left:7.3px;top:771.31px">Amer. Samoa</div>
<div class="t n" style="right:547px;top:771.31px">U</div>
<div class="t n" style="right:477.2px;top:771.31px">U</div>
<div class="t n" style="right:409.5px;top:771.31px">U</div>
<div class="t n" style="right:344.7px;top:771.31px">U</div>
<div class="t n" style="right:281.8px;top:771.31px">U</div>
<div class="t n" style="right:227.2px;top:771.31px">U</div>
<div class="t n" style="right:168.5px;top:771.31px">U</div>
<div class="t n" style="right:99.7px;top:771.31px">U</div>
<div class="t n" style="right:38px;top:771.31px">U</div>
<div class="t r" style="left:7.3px;top:780.75px">C.N.M.I.</div>
<div class="t n" style="right:547px;top:780.75px">-</div>
<div class="t n" style="right:477.2px;top:780.75px">U</div>
<div class="t n" style="right:409.5px;top:780.75px">1</div>
<div class="t n" style="right:344.7px;top:780.75px">13</div>
<div class="t n" style="right:281.8px;top:780.75px">U</div>
<div class="t n" style="right:227.2px;top:780.75px">-</div>
<div class="t n" style="right:168.5px;top:780.75px">U</div>
<div class="t n" style="right:99.7px;top:780.75px">-</div>
<div class="t n" style="right:38px;top:780.75px">U</div>
<div class="l" style="left:7px;top:796px;width:676px;height:1px"></div>
<div class="t f" style="left:6.8px;top:794.9px">N: Not notifiable.</div>
<div class="t f" style="left:101.6px;top:794.9px">U: Unavailable.</div>
<div class="t f" style="left:186.8px;top:794.9px">- : No reported cases.</div>
<div class="t f" style="left:8.5px;top:803.7px">*</div>
<div class="t f" style="left:15px;top:803.7px">Incidence data for reporting year 2001 and 2002 are provisional and cumulative (year-to-date).</div>
</body></html>
